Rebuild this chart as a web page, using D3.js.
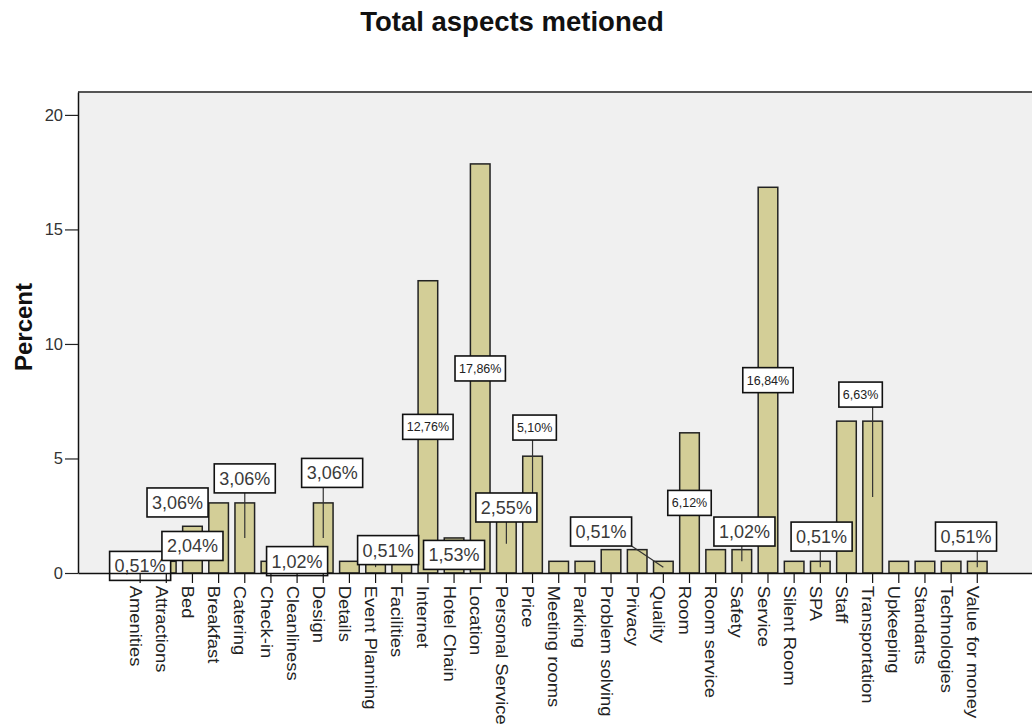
<!DOCTYPE html>
<html>
<head>
<meta charset="utf-8">
<script src="https://cdn.jsdelivr.net/npm/d3@7"></script>
<style>
  body { margin: 0; background: #ffffff; }
  text { font-family: Arial, "Liberation Sans", sans-serif; }
</style>
</head>
<body>
<svg id="chart" width="1032" height="725"></svg>
<script>
// Aspects mentioned in hotel reviews, share of all mentions (%)
const categories = [
  "Amenities", "Attractions", "Bed", "Breakfast", "Catering", "Check-in",
  "Cleanliness", "Design", "Details", "Event Planning", "Facilities",
  "Internet", "Hotel Chain", "Location", "Personal Service", "Price",
  "Meeting rooms", "Parking", "Problem solving", "Privacy", "Quality",
  "Room", "Room service", "Safety", "Service", "Silent Room", "SPA",
  "Staff", "Transportation", "Upkeeping", "Standarts", "Technologies",
  "Value for money"
];
const percentValues = [
  0.51, 0.51, 2.04, 3.06, 3.06, 0.51,
  1.02, 3.06, 0.51, 0.51, 0.51,
  12.76, 1.53, 17.86, 2.55, 5.10,
  0.51, 0.51, 1.02, 1.02, 0.51,
  6.12, 1.02, 1.02, 16.84, 0.51, 0.51,
  6.63, 6.63, 0.51, 0.51, 0.51,
  0.51
];
const yTickValues = [0, 5, 10, 15, 20];

// Categories that carry a value callout
const labelledCategories = [
  "Amenities", "Bed", "Breakfast", "Catering", "Cleanliness", "Design",
  "Event Planning", "Internet", "Hotel Chain", "Location", "Personal Service",
  "Price", "Quality", "Room", "Safety", "Service", "SPA", "Transportation",
  "Value for money"
];
// Callout placement: horizontal shift in category steps, vertical centre in
// percent units (null = middle of the bar), and whether a leader is drawn
const calloutShift = [0, 0, -1.57, 0, 0, 0.34, 0.48, 0, 0, 0, 0, 0.08, -2.38, 0, 0.1, 0, 0.05, -0.46, -0.43];
const calloutLevel = [0.31, 1.18, 3.08, 4.13, 0.52, 4.37, 1.0, null, 0.79, null, 2.86, 6.35, 1.81, null, 1.81, null, 1.59, 7.79, 1.59];
const calloutLeader = [true, true, false, true, true, true, true, true, true, true, true, true, true, true, true, true, true, true, true];

const data = categories.map((c, i) => ({ category: c, value: percentValues[i] }));
const byCategory = new Map(data.map(d => [d.category, d]));

const svg = d3.select("#chart");
const margin = { left: 78, top: 92, bottom: 573, right: 1039.4 };

const x = d3.scaleBand()
  .domain(categories)
  .range([margin.left, margin.right])
  .paddingInner(0.25)
  .paddingOuter(2.0);

const y = d3.scaleLinear()
  .domain([0, 21])
  .range([margin.bottom, margin.top]);

// Plot background and frame
svg.append("rect")
  .attr("x", margin.left).attr("y", margin.top)
  .attr("width", 1032 - margin.left).attr("height", margin.bottom - margin.top)
  .attr("fill", "#f0f0f0");
svg.append("line")
  .attr("x1", margin.left).attr("x2", 1032)
  .attr("y1", margin.top).attr("y2", margin.top)
  .attr("stroke", "#555").attr("stroke-width", 2);

// Title
svg.append("text")
  .attr("x", 512).attr("y", 31)
  .attr("text-anchor", "middle")
  .attr("font-size", 27.5).attr("font-weight", "bold")
  .attr("fill", "#111")
  .text("Total aspects metioned");

// Bars
svg.append("g").selectAll("rect")
  .data(data)
  .join("rect")
  .attr("x", d => x(d.category))
  .attr("y", d => y(d.value))
  .attr("width", x.bandwidth())
  .attr("height", d => y(0) - y(d.value))
  .attr("fill", "#d3ce97")
  .attr("stroke", "#222")
  .attr("stroke-width", 1.5);

// Value callouts
const fmt = v => d3.format(".2f")(v).replace(".", ",") + "%";
const callouts = labelledCategories.map((c, i) => {
  const d = byCategory.get(c);
  const cx = x(c) + x.bandwidth() / 2;
  const level = calloutLevel[i] === null ? d.value / 2 : calloutLevel[i];
  return {
    d,
    barX: cx,
    barMidY: y(d.value / 2),
    cx: cx + calloutShift[i] * x.step(),
    cy: y(level),
    small: d.value >= 5,
    leader: calloutLeader[i]
  };
});

const leaderLayer = svg.append("g");
const calloutLayer = svg.append("g");

callouts.forEach(o => {
  const g = calloutLayer.append("g");
  const fs = o.small ? 12.5 : 18;
  const t = g.append("text")
    .attr("x", o.cx).attr("y", o.cy)
    .attr("dy", "0.36em")
    .attr("text-anchor", "middle")
    .attr("font-size", fs)
    .attr("fill", o.small ? "#222" : "#3a3a3a")
    .text(fmt(o.d.value));
  const w = t.node().getComputedTextLength() + (o.small ? 8 : 10);
  const h = o.small ? 25 : 29;
  g.insert("rect", "text")
    .attr("x", o.cx - w / 2).attr("y", o.cy - h / 2)
    .attr("width", w).attr("height", h)
    .attr("fill", "#ffffff")
    .attr("stroke", "#111").attr("stroke-width", 1.6);

  if (o.leader) {
    const left = o.cx - w / 2, right = o.cx + w / 2;
    const top = o.cy - h / 2, bottom = o.cy + h / 2;
    if (o.barMidY > bottom || o.barMidY < top || o.barX < left || o.barX > right) {
      const sx = Math.max(left, Math.min(right, o.barX));
      const sy = o.barMidY > bottom ? bottom : (o.barMidY < top ? top : o.cy);
      leaderLayer.append("line")
        .attr("x1", sx).attr("y1", sy)
        .attr("x2", o.barX).attr("y2", o.barMidY)
        .attr("stroke", "#333").attr("stroke-width", 1.2);
    }
  }
});

// X axis
const xAxis = svg.append("g")
  .attr("transform", `translate(0,${margin.bottom})`)
  .call(d3.axisBottom(x).tickSize(10).tickSizeOuter(0));
xAxis.select(".domain").attr("stroke", "#111").attr("stroke-width", 1.5);
xAxis.selectAll(".tick line").attr("stroke", "#111").attr("stroke-width", 1.2);
xAxis.selectAll(".tick text")
  .attr("transform", "rotate(90) scale(1.15,1)")
  .attr("x", 11).attr("y", 0).attr("dy", "0.65em")
  .attr("text-anchor", "start")
  .attr("font-size", 16)
  .attr("font-family", "Arial, 'Liberation Sans', sans-serif")
  .attr("fill", "#222");

// Y axis
const yAxis = svg.append("g")
  .attr("transform", `translate(${margin.left},0)`)
  .call(d3.axisLeft(y).tickValues(yTickValues).tickSize(13).tickSizeOuter(0).tickPadding(2));
yAxis.select(".domain").attr("stroke", "#111").attr("stroke-width", 1.5);
yAxis.selectAll(".tick line").attr("stroke", "#222").attr("stroke-width", 1.2);
yAxis.selectAll(".tick text")
  .attr("font-size", 16.5)
  .attr("font-family", "Arial, 'Liberation Sans', sans-serif")
  .attr("fill", "#333");

// Y axis title
svg.append("text")
  .attr("transform", "translate(32,327) rotate(-90)")
  .attr("text-anchor", "middle")
  .attr("font-size", 24).attr("font-weight", "bold")
  .attr("fill", "#111")
  .text("Percent");
</script>
</body>
</html>
